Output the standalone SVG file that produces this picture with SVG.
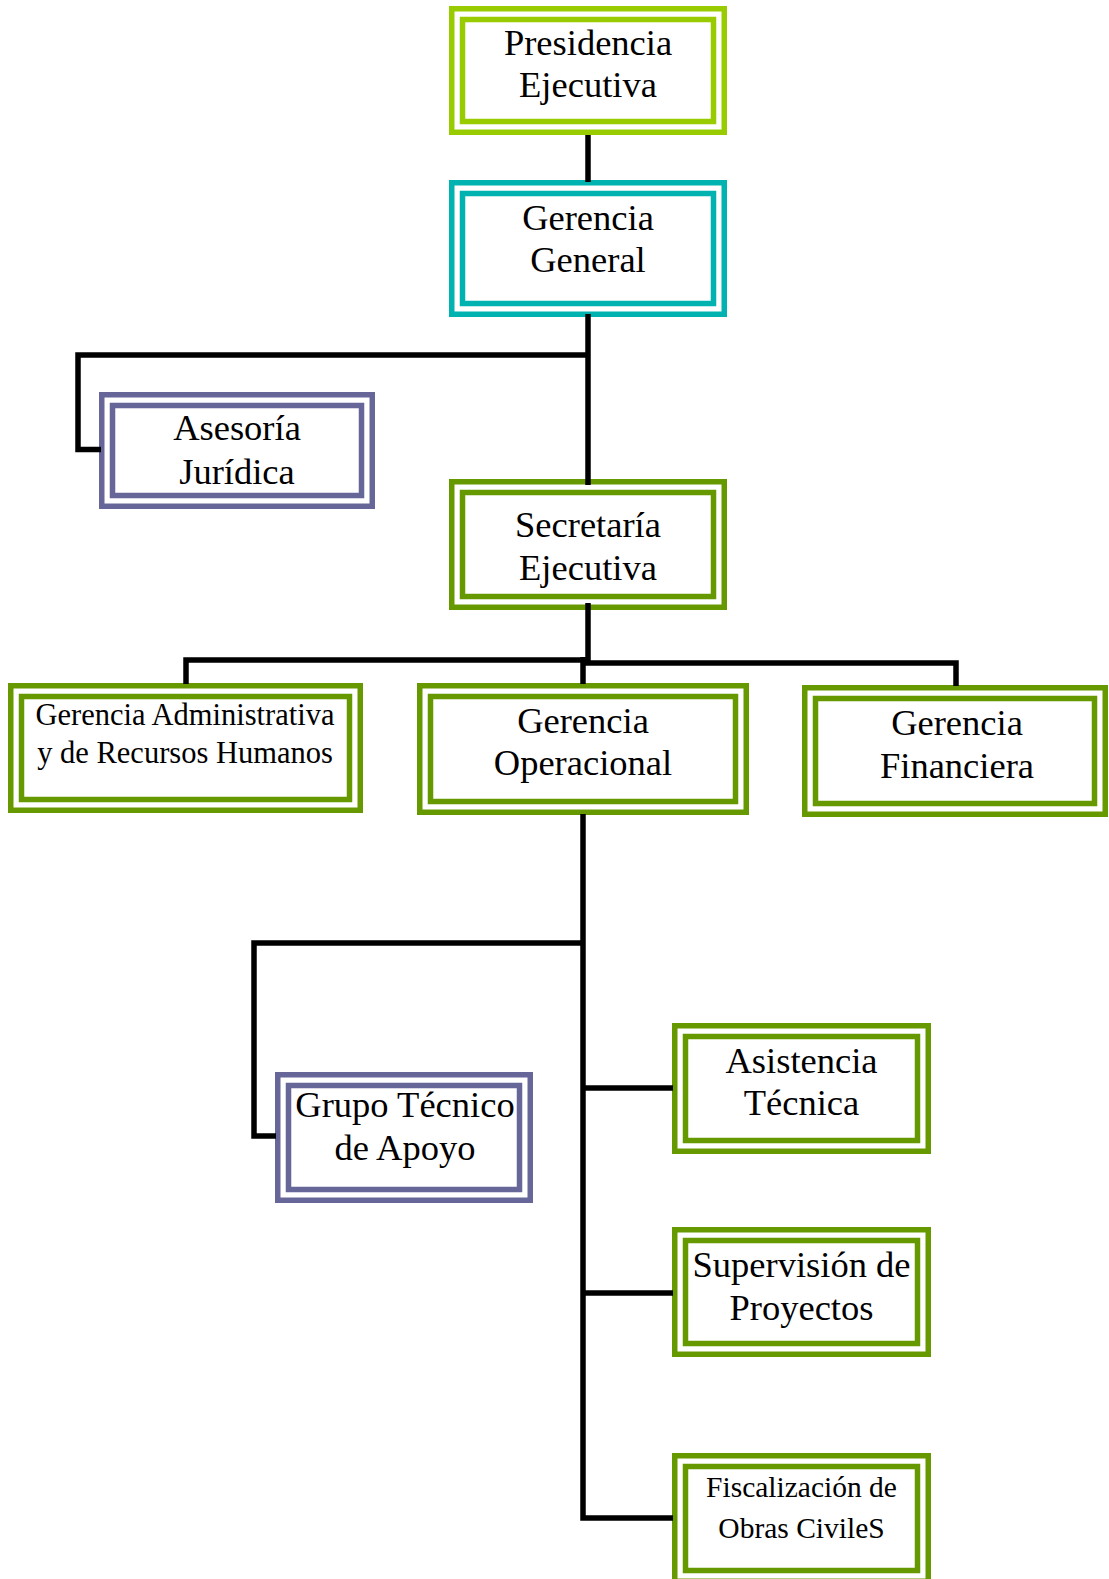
<svg xmlns="http://www.w3.org/2000/svg" width="1109" height="1579" viewBox="0 0 1109 1579">
  <style>
    .o { fill: #ffffff; stroke-width: 5.5; }
    .i { fill: none; stroke-width: 5.5; }
    .lime { stroke: #99cc00; }
    .teal { stroke: #00b3b0; }
    .plum { stroke: #666699; }
    .olive { stroke: #669900; }
    text { font-family: "Liberation Serif", "Times New Roman", serif; font-size: 36.5px; fill: #000000; text-anchor: middle; }
    text.sm { font-size: 30.5px; }
    text.xs { font-size: 29.5px; }
    .link { fill: none; stroke: #000000; stroke-width: 5.5; stroke-linejoin: miter; stroke-linecap: butt; }
  </style>

  <rect width="1109" height="1579" fill="#ffffff"/>

  <!-- nodes: outer frame + inner frame (double border) -->
  <g id="presidencia-ejecutiva">
    <rect class="o lime" x="451.75" y="8.75" width="272.5" height="123.5"/>
    <rect class="i lime" x="462.5" y="19.5" width="251" height="102"/>
    <text x="588" y="55">Presidencia</text>
    <text x="588" y="97">Ejecutiva</text>
  </g>

  <g id="gerencia-general">
    <rect class="o teal" x="451.75" y="182.75" width="272.5" height="131.5"/>
    <rect class="i teal" x="462.5" y="193.5" width="251" height="110"/>
    <text x="588" y="230">Gerencia</text>
    <text x="588" y="272">General</text>
  </g>

  <g id="asesoria-juridica">
    <rect class="o plum" x="101.75" y="394.75" width="270.5" height="111.5"/>
    <rect class="i plum" x="112.5" y="405.5" width="249" height="90"/>
    <text x="237" y="440">Asesoría</text>
    <text x="237" y="484">Jurídica</text>
  </g>

  <g id="secretaria-ejecutiva">
    <rect class="o olive" x="451.75" y="481.75" width="272.5" height="125.5"/>
    <rect class="i olive" x="462.5" y="492.5" width="251" height="104"/>
    <text x="588" y="537">Secretaría</text>
    <text x="588" y="580">Ejecutiva</text>
  </g>

  <g id="gerencia-administrativa">
    <rect class="o olive" x="10.75" y="685.75" width="349.5" height="124.5"/>
    <rect class="i olive" x="21.5" y="696.5" width="328" height="103"/>
    <text class="sm" x="185" y="725">Gerencia Administrativa</text>
    <text class="sm" x="185" y="763">y de Recursos Humanos</text>
  </g>

  <g id="gerencia-operacional">
    <rect class="o olive" x="419.75" y="685.75" width="326.5" height="126.5"/>
    <rect class="i olive" x="430.5" y="696.5" width="305" height="105"/>
    <text x="583" y="733">Gerencia</text>
    <text x="583" y="775">Operacional</text>
  </g>

  <g id="gerencia-financiera">
    <rect class="o olive" x="804.75" y="687.75" width="300.5" height="126.5"/>
    <rect class="i olive" x="815.5" y="698.5" width="279" height="105"/>
    <text x="957" y="735">Gerencia</text>
    <text x="957" y="778">Financiera</text>
  </g>

  <g id="grupo-tecnico">
    <rect class="o plum" x="277.75" y="1074.75" width="252.5" height="125.5"/>
    <rect class="i plum" x="288.5" y="1085.5" width="231" height="104"/>
    <text x="405" y="1117">Grupo Técnico</text>
    <text x="405" y="1160">de Apoyo</text>
  </g>

  <g id="asistencia-tecnica">
    <rect class="o olive" x="674.75" y="1025.75" width="253.5" height="125.5"/>
    <rect class="i olive" x="685.5" y="1036.5" width="232" height="104"/>
    <text x="801.5" y="1073">Asistencia</text>
    <text x="801.5" y="1115">Técnica</text>
  </g>

  <g id="supervision-proyectos">
    <rect class="o olive" x="674.75" y="1229.75" width="253.5" height="124.5"/>
    <rect class="i olive" x="685.5" y="1240.5" width="232" height="103"/>
    <text x="801.5" y="1277">Supervisión de</text>
    <text x="801.5" y="1320">Proyectos</text>
  </g>

  <g id="fiscalizacion-obras">
    <rect class="o olive" x="674.75" y="1455.75" width="253.5" height="125.5"/>
    <rect class="i olive" x="685.5" y="1466.5" width="232" height="104"/>
    <text class="xs" x="801.5" y="1497">Fiscalización de</text>
    <text class="xs" x="801.5" y="1538">Obras CivileS</text>
  </g>

  <!-- connectors -->
  <g id="connectors">
    <path class="link" d="M588,135 V182"/>
    <path class="link" d="M588,314 V485"/>
    <path class="link" d="M588,355 H78 V449.5 H101"/>
    <path class="link" d="M588,603 V664"/>
    <path class="link" d="M588,660 H186 V684"/>
    <path class="link" d="M583,663 H956 V686"/>
    <path class="link" d="M583,657 V684"/>
    <path class="link" d="M583,814 V1518 H673"/>
    <path class="link" d="M583,943 H254 V1136 H276"/>
    <path class="link" d="M583,1088 H673"/>
    <path class="link" d="M583,1293 H673"/>
  </g>
</svg>
